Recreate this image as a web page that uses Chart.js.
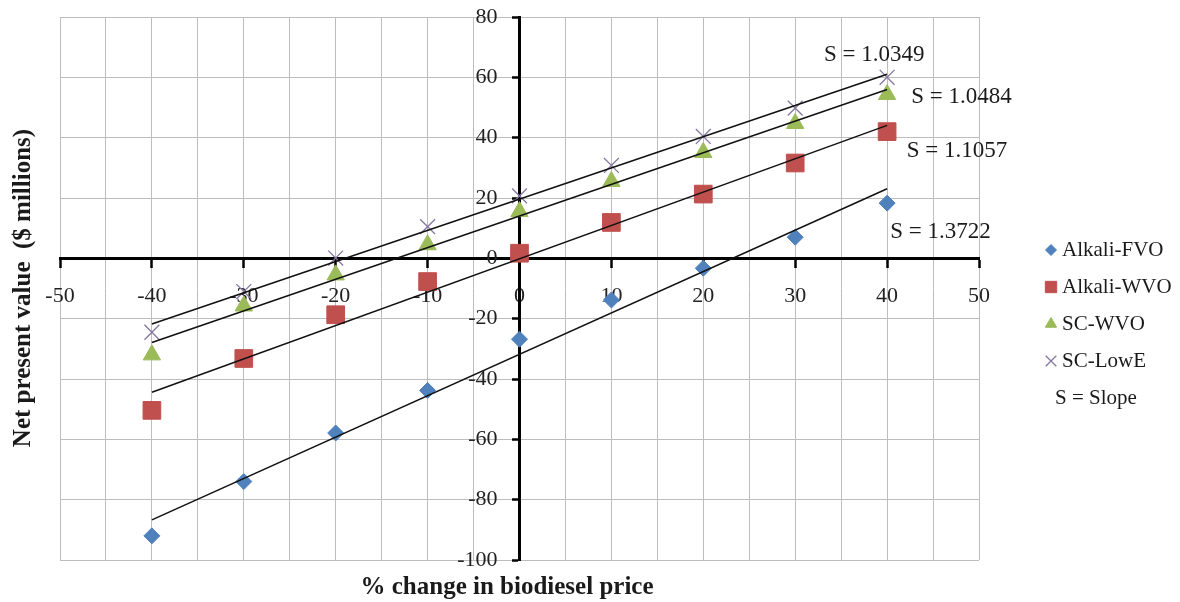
<!DOCTYPE html>
<html>
<head>
<meta charset="utf-8">
<title>Net present value vs. biodiesel price</title>
<script src="https://cdn.jsdelivr.net/npm/chart.js@4.4.1/dist/chart.umd.min.js"></script>
<style>
  html, body { margin: 0; padding: 0; background: #ffffff; }
  #wrap { width: 1180px; height: 602px; position: relative; }
</style>
</head>
<body>
<div id="wrap"><canvas id="npv" width="1180" height="602"></canvas></div>
<script>
// % change in biodiesel price (x) and net present value in $ millions (y)
const priceChange = [-40, -30, -20, -10, 0, 10, 20, 30, 40];
const alkaliFVO = [-92.0, -74.0, -57.9, -43.8, -26.8, -13.8, -3.3, 7.0, 18.3];
const alkaliWVO = [-50.4, -33.2, -18.7, -7.7, 1.7, 11.9, 21.3, 31.6, 42.0];
const scWVO     = [-32.0, -15.8, -5.5, 4.5, 15.5, 25.5, 35.1, 44.7, 54.3];
const scLowE    = [-24.5, -11.0, 0.1, 10.5, 20.7, 30.8, 40.4, 49.8, 60.0];
const seriesNames = ['Alkali-FVO', 'Alkali-WVO', 'SC-WVO', 'SC-LowE'];
const slopes = [1.3722, 1.1057, 1.0484, 1.0349];
const xRange = [-50, 50];
const yRange = [-100, 80];
const xTitle = '% change in biodiesel price';
const yTitle = 'Net present value  ($ millions)';
const slopeNote = 'S = Slope';

const SERIF = "'Liberation Serif', 'Times New Roman', serif";
const seriesValues = [alkaliFVO, alkaliWVO, scWVO, scLowE];

// marker look for each series (plot size and key size)
const markerStyles = [
  { pointStyle: 'rectRot',  color: '#4f81bd', radius: 8,    keyRadius: 5.5, width: 1 },
  { pointStyle: 'rect',     color: '#c0504d', radius: 12.5, keyRadius: 8,   width: 1 },
  { pointStyle: 'triangle', color: '#9bbb59', radius: 10,   keyRadius: 6.5, width: 1 },
  { pointStyle: 'crossRot', color: '#8576a0', radius: 10.5, keyRadius: 7.5, width: 1.3 }
];

// where each "S = ..." note sits, in axis units
const slopeLabelAt = [
  { x: 45.8, y: 8.7 },
  { x: 47.6, y: 35.6 },
  { x: 48.1, y: 53.5 },
  { x: 38.6, y: 67.4 }
];

function mean(a) { return a.reduce((s, v) => s + v, 0) / a.length; }

// straight fit with the stated slope, passing through the centroid of the points
function trendPoints(values, slope) {
  const mx = mean(priceChange), my = mean(values);
  const b = my - slope * mx;
  const x0 = priceChange[0], x1 = priceChange[priceChange.length - 1];
  return [{ x: x0, y: slope * x0 + b }, { x: x1, y: slope * x1 + b }];
}

const datasets = [];
seriesValues.forEach((vals, i) => {
  datasets.push({
    type: 'line',
    label: seriesNames[i] + ' trend',
    data: trendPoints(vals, slopes[i]),
    borderColor: '#111111',
    borderWidth: 1.5,
    pointRadius: 0,
    fill: false,
    order: 0
  });
});
seriesValues.forEach((vals, i) => {
  const m = markerStyles[i];
  datasets.push({
    type: 'scatter',
    label: seriesNames[i],
    data: priceChange.map((x, k) => ({ x: x, y: vals[k] })),
    pointStyle: m.pointStyle,
    pointRadius: m.radius,
    pointHoverRadius: m.radius,
    backgroundColor: m.color,
    borderColor: m.color,
    pointBorderWidth: m.width,
    showLine: false,
    order: 1
  });
});

function drawMarker(ctx, style, radius, x, y) {
  ctx.save();
  ctx.fillStyle = style.color;
  ctx.strokeStyle = style.color;
  ctx.lineWidth = style.width;
  if (Chart.helpers && Chart.helpers.drawPoint) {
    Chart.helpers.drawPoint(ctx, { pointStyle: style.pointStyle, radius: radius, rotation: 0, borderWidth: style.width }, x, y);
  }
  ctx.restore();
}

// slope notes, axis titles and the key on the right
const notesPlugin = {
  id: 'notes',
  afterDraw(chart) {
    const ctx = chart.ctx;
    const xs = chart.scales.x, ys = chart.scales.y;
    ctx.save();
    ctx.fillStyle = '#1a1a1a';
    ctx.textBaseline = 'middle';

    // slope notes
    ctx.font = '23px ' + SERIF;
    ctx.textAlign = 'center';
    slopes.forEach((s, i) => {
      const p = slopeLabelAt[i];
      ctx.fillText('S = ' + s.toFixed(4), xs.getPixelForValue(p.x), ys.getPixelForValue(p.y));
    });

    // axis titles
    ctx.font = 'bold 25px ' + SERIF;
    ctx.fillText(xTitle, 507, 588);
    ctx.save();
    ctx.translate(24, 288);
    ctx.rotate(-Math.PI / 2);
    ctx.fillText(yTitle, 0, 0);
    ctx.restore();

    // key
    const keyX = 1051, keyTop = 250, rowH = 37;
    ctx.font = '21px ' + SERIF;
    ctx.textAlign = 'left';
    seriesNames.forEach((name, i) => {
      const y = keyTop + i * rowH;
      drawMarker(ctx, markerStyles[i], markerStyles[i].keyRadius, keyX, y);
      ctx.fillStyle = '#1a1a1a';
      ctx.fillText(name, keyX + 11, y);
    });
    ctx.fillText(slopeNote, keyX + 4, keyTop + 4 * rowH);
    ctx.restore();
  }
};

new Chart(document.getElementById('npv'), {
  type: 'scatter',
  data: { datasets: datasets },
  options: {
    responsive: false,
    animation: false,
    devicePixelRatio: 1,
    layout: { padding: { left: 60, top: 17, right: 201, bottom: 42 } },
    plugins: {
      legend: { display: false },
      tooltip: { enabled: false },
      title: { display: false }
    },
    scales: {
      x: {
        type: 'linear',
        min: xRange[0],
        max: xRange[1],
        position: { y: 0 },
        afterFit: (s) => { s.height = 0; },
        ticks: {
          stepSize: 5,
          autoSkip: false,
          maxRotation: 0,
          padding: 17,
          color: '#222222',
          font: { family: SERIF, size: 22 },
          callback: (v) => (v % 10 === 0 ? String(v) : '')
        },
        grid: {
          color: '#bdbdbd',
          lineWidth: 1,
          drawTicks: true,
          tickLength: 8,
          tickWidth: 2.5,
          tickColor: (c) => (c.tick && c.tick.value % 10 === 0 ? '#000000' : 'rgba(0,0,0,0)')
        },
        border: { display: true, color: '#000000', width: 3 }
      },
      y: {
        type: 'linear',
        min: yRange[0],
        max: yRange[1],
        position: { x: 0 },
        afterFit: (s) => { s.width = 0; },
        ticks: {
          stepSize: 20,
          autoSkip: false,
          padding: 0,
          color: '#222222',
          font: { family: SERIF, size: 22 },
          // trailing gap keeps the numbers clear of the zero line
          callback: (v) => String(v) + '    '
        },
        grid: {
          color: '#bdbdbd',
          lineWidth: 1,
          drawTicks: true,
          tickLength: 6,
          tickWidth: 2.5,
          tickColor: '#000000'
        },
        border: { display: true, color: '#000000', width: 3 }
      }
    }
  },
  plugins: [notesPlugin]
});
</script>
</body>
</html>
